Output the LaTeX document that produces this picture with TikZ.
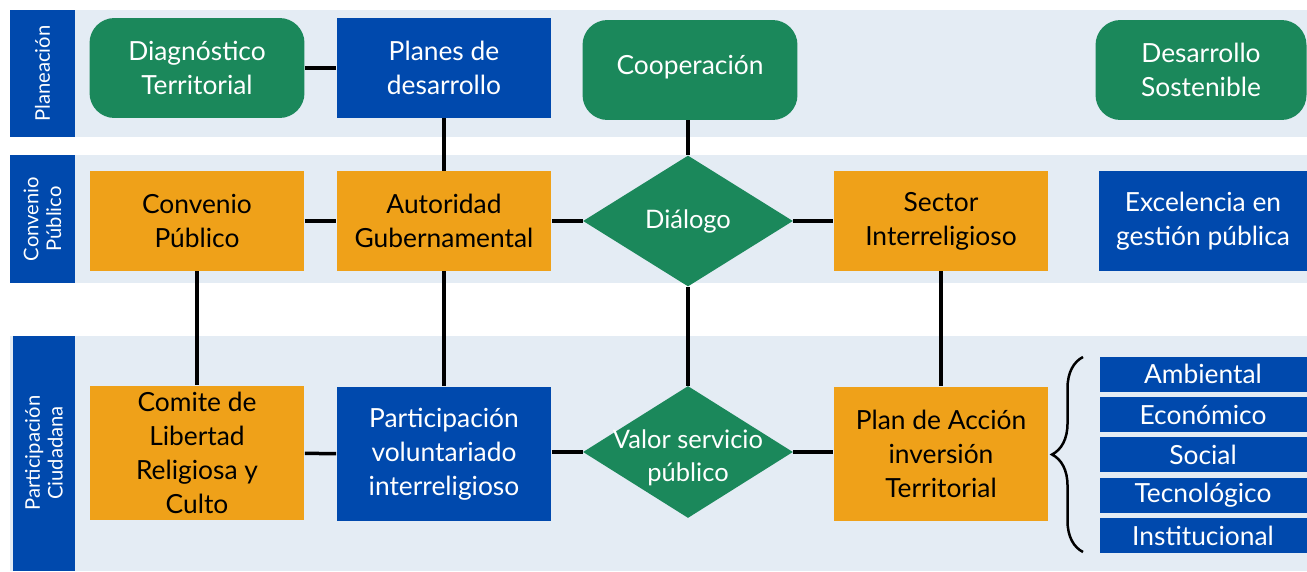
\documentclass[tikz,border=0pt]{standalone}
\usepackage{fontspec}
\setmainfont{Lato}
\usetikzlibrary{shapes.geometric,decorations.pathreplacing}

\definecolor{fondo}{HTML}{E4ECF4}
\definecolor{azul}{HTML}{0049AD}
\definecolor{verde}{HTML}{1B885B}
\definecolor{naranja}{HTML}{EFA119}

\tikzset{
  caja/.style={minimum width=4.3cm, minimum height=2cm, inner sep=2pt, align=center, font=\fontsize{15}{19.3}\selectfont},
  verdecaja/.style={caja, fill=verde, text=white, rounded corners=0.5cm},
  azulcaja/.style={caja, fill=azul, text=white},
  naranjacaja/.style={caja, fill=naranja, text=black},
  rombo/.style={diamond, fill=verde, minimum width=4.2cm, minimum height=2.62cm, inner sep=0pt},
  rombotexto/.style={text=white, align=center, font=\fontsize{14.5}{18.8}\selectfont},
  banda/.style={fill=fondo},
  etiqueta/.style={text=white, align=center, font=\fontsize{11.5}{13}\selectfont},
  eje/.style={azulcaja, minimum width=4.14cm, minimum height=0.7cm, font=\fontsize{15}{16}\selectfont},
  enlace/.style={line width=0.07cm}
}

\begin{document}
\begin{tikzpicture}[x=0.02cm, y=-0.02cm]

    \useasboundingbox (0,0) rectangle (1307,571);

    %% Bands
    \fill[banda] (75,10) rectangle (1307,137);
    \fill[banda] (75,155) rectangle (1307,283);
    \fill[banda] (10,336) rectangle (1307,571);

    % Band labels
    \fill[azul] (10,10) rectangle (75,137);
    \fill[azul] (10,155) rectangle (75,283);
    \fill[azul] (13,336) rectangle (75,571);
    \node[etiqueta, rotate=90] (lplan) at (42.5,73.5) {Planeación};
    \node[etiqueta, rotate=90] (lconv) at (42.5,219) {Convenio\\Público};
    \node[etiqueta, rotate=90] (lpart) at (44,453) {Participación\\Ciudadana};

    %% Planeacion
    \node[verdecaja] (diag) at (197,68) {Diagnóstico\\Territorial};
    \node[azulcaja] (planes) at (444,68) {Planes de\\desarrollo};
    \node[verdecaja] (coop) at (690,70) {\raisebox{6pt}{Cooperación}};
    \node[verdecaja, minimum width=4.22cm] (sost) at (1201,70) {Desarrollo\\Sostenible};

    %% Convenio publico
    \node[naranjacaja] (convenio) at (197,221) {Convenio\\Público};
    \node[naranjacaja] (autoridad) at (444,221) {Autoridad\\Gubernamental};
    \node[rombo] (dialogo) at (688,221) {};
    \node[rombotexto] (tdialogo) at (dialogo.center) {Diálogo};
    \node[naranjacaja] (sector) at (941,221) {Sector\\Interreligioso};
    \node[azulcaja, minimum width=4.16cm] (excel) at (1203,221) {Excelencia en\\gestión pública};

    %% Participacion ciudadana
    \node[naranjacaja, minimum height=2.7cm] (comite) at (197,453) {Comite de\\Libertad\\Religiosa y\\Culto};
    \node[azulcaja, minimum height=2.7cm] (volunt) at (444,454) {Participación\\voluntariado\\interreligioso};
    \node[rombo, minimum height=2.64cm] (valor) at (688,452) {};
    \node[rombotexto, yshift=-0.11cm] (tvalor) at (valor.center) {Valor servicio\\público};
    \node[naranjacaja, minimum height=2.7cm] (plan) at (941,454) {Plan de Acción\\inversión\\Territorial};

    % Ejes
    \node[eje] (amb) at (1203,374) {Ambiental};
    \node[eje] (eco) at (1203,414.5) {Económico};
    \node[eje] (soc) at (1203,454.5) {Social};
    \node[eje] (tec) at (1203,495.5) {Tecnológico};
    \node[eje] (inst) at (1203,535.5) {Institucional};

    % Brace
    \coordinate (llaveb) at (1083,552);
    \coordinate (llavea) at (1083,357);
    \draw[line width=0.05cm, decorate, decoration={brace, amplitude=0.62cm}] (llaveb) -- (llavea);

    %% Connectors
    \draw[enlace] (diag) -- (planes);
    \draw[enlace] (planes) -- (autoridad);
    \draw[enlace] (coop.south -| dialogo.north) -- (dialogo.north);
    \draw[enlace] (convenio) -- (autoridad);
    \draw[enlace] (autoridad) -- (dialogo.west);
    \draw[enlace] (dialogo.east) -- (sector);
    \draw[enlace] (convenio) -- (comite);
    \draw[enlace] (autoridad) -- (volunt);
    \draw[enlace] (dialogo.south) -- (valor.north);
    \draw[enlace] (sector) -- (plan);
    \draw[enlace] (comite) -- (volunt);
    \draw[enlace] (volunt.east |- valor.west) -- (valor.west);
    \draw[enlace] (valor.east) -- (valor.east -| plan.west);

\end{tikzpicture}
\end{document}
